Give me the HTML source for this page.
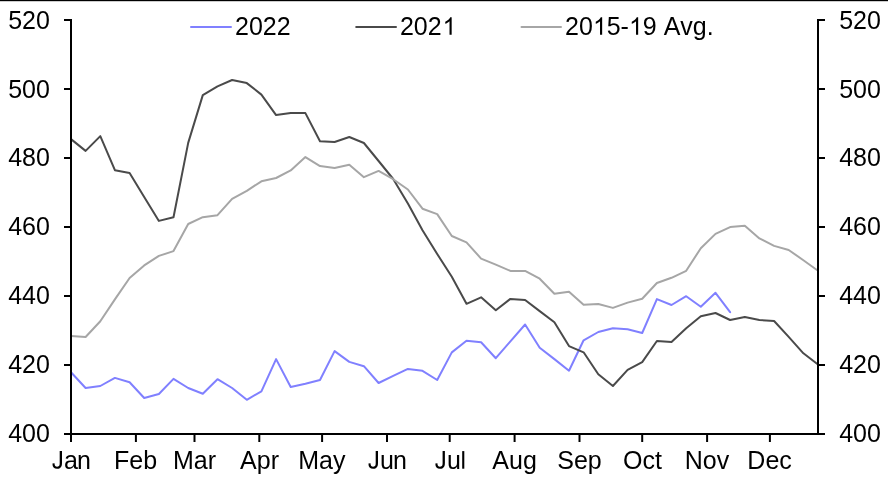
<!DOCTYPE html>
<html><head><meta charset="utf-8"><title>Chart</title>
<style>
html,body{margin:0;padding:0;background:#fff;}
body{width:888px;height:478px;overflow:hidden;}
svg{display:block;will-change:transform;}
text{font-kerning:none;font-family:"Liberation Sans",sans-serif;font-size:25px;fill:#000;}
</style></head><body>
<svg width="888" height="478" viewBox="0 0 888 478">
<rect x="0" y="0" width="888" height="478" fill="#fff"/>
<rect x="0" y="0" width="888" height="1.2" fill="#000"/>
<polyline fill="none" stroke="#8080ff" stroke-width="2" stroke-linejoin="round" stroke-linecap="round" points="71.0,372.2 85.6,388.0 100.3,386.0 114.9,377.9 129.6,382.2 144.2,398.0 158.9,394.0 173.5,378.9 188.2,388.0 202.8,393.8 217.5,379.2 232.1,388.0 246.8,399.8 261.4,391.3 276.1,359.1 290.7,387.0 305.4,383.8 320.0,380.0 334.6,351.1 349.3,361.9 363.9,366.2 378.6,383.0 393.2,375.9 407.9,368.9 422.5,370.8 437.2,380.0 451.8,352.4 466.5,340.8 481.1,342.2 495.8,358.2 510.4,341.3 525.1,324.5 539.7,347.8 554.4,359.1 569.0,370.7 583.6,340.3 598.3,332.0 612.9,328.2 627.6,329.2 642.2,333.0 656.9,299.1 671.5,305.0 686.2,296.2 700.8,306.8 715.5,292.8 730.1,312.1"/>
<polyline fill="none" stroke="#4a4a4a" stroke-width="2" stroke-linejoin="round" stroke-linecap="round" points="71.0,139.1 85.6,150.9 100.3,136.1 114.9,170.2 129.6,173.0 144.2,197.0 158.9,220.9 173.5,217.2 188.2,142.9 202.8,95.1 217.5,86.3 232.1,80.0 246.8,83.1 261.4,94.6 276.1,115.1 290.7,113.1 305.4,113.1 320.0,141.2 334.6,142.0 349.3,137.0 363.9,143.0 378.6,161.0 393.2,179.0 407.9,203.5 422.5,230.2 437.2,254.0 451.8,276.7 466.5,303.8 481.1,297.3 495.8,310.3 510.4,298.9 525.1,300.0 539.7,311.1 554.4,322.2 569.0,346.1 583.6,352.3 598.3,374.2 612.9,386.0 627.6,369.9 642.2,362.1 656.9,341.0 671.5,342.0 686.2,328.2 700.8,316.2 715.5,313.0 730.1,320.0 744.8,317.0 759.4,320.0 774.1,321.0 788.7,336.9 803.4,353.3 818.0,364.5"/>
<polyline fill="none" stroke="#a6a6a6" stroke-width="2" stroke-linejoin="round" stroke-linecap="round" points="71.0,336.0 85.6,337.0 100.3,321.2 114.9,299.4 129.6,278.0 144.2,265.4 158.9,255.9 173.5,251.1 188.2,224.0 202.8,217.2 217.5,215.2 232.1,198.8 246.8,190.8 261.4,181.3 276.1,178.0 290.7,170.4 305.4,157.1 320.0,166.1 334.6,168.1 349.3,164.8 363.9,177.2 378.6,170.9 393.2,179.2 407.9,189.5 422.5,208.7 437.2,214.1 451.8,236.0 466.5,242.3 481.1,258.6 495.8,264.6 510.4,270.9 525.1,270.9 539.7,278.7 554.4,293.8 569.0,291.8 583.6,304.8 598.3,304.0 612.9,307.9 627.6,302.6 642.2,298.8 656.9,283.0 671.5,277.8 686.2,270.8 700.8,248.2 715.5,233.9 730.1,227.1 744.8,225.8 759.4,238.4 774.1,245.9 788.7,250.0 803.4,260.2 818.0,270.8"/>
<g stroke="#000" stroke-width="2" fill="none">
<line x1="71.0" y1="19.0" x2="71.0" y2="435.0"/>
<line x1="818.0" y1="19.0" x2="818.0" y2="435.0"/>
<line x1="64" y1="434.0" x2="825" y2="434.0"/>
<line x1="64" y1="20.0" x2="71.0" y2="20.0"/>
<line x1="818.0" y1="20.0" x2="825" y2="20.0"/>
<line x1="64" y1="89.0" x2="71.0" y2="89.0"/>
<line x1="818.0" y1="89.0" x2="825" y2="89.0"/>
<line x1="64" y1="158.0" x2="71.0" y2="158.0"/>
<line x1="818.0" y1="158.0" x2="825" y2="158.0"/>
<line x1="64" y1="227.0" x2="71.0" y2="227.0"/>
<line x1="818.0" y1="227.0" x2="825" y2="227.0"/>
<line x1="64" y1="296.0" x2="71.0" y2="296.0"/>
<line x1="818.0" y1="296.0" x2="825" y2="296.0"/>
<line x1="64" y1="365.0" x2="71.0" y2="365.0"/>
<line x1="818.0" y1="365.0" x2="825" y2="365.0"/>
<line x1="71.0" y1="434.0" x2="71.0" y2="442"/>
<line x1="135.9" y1="434.0" x2="135.9" y2="442"/>
<line x1="194.5" y1="434.0" x2="194.5" y2="442"/>
<line x1="259.3" y1="434.0" x2="259.3" y2="442"/>
<line x1="322.1" y1="434.0" x2="322.1" y2="442"/>
<line x1="387.0" y1="434.0" x2="387.0" y2="442"/>
<line x1="449.7" y1="434.0" x2="449.7" y2="442"/>
<line x1="514.6" y1="434.0" x2="514.6" y2="442"/>
<line x1="579.5" y1="434.0" x2="579.5" y2="442"/>
<line x1="642.2" y1="434.0" x2="642.2" y2="442"/>
<line x1="707.1" y1="434.0" x2="707.1" y2="442"/>
<line x1="769.9" y1="434.0" x2="769.9" y2="442"/>
</g>
<text x="49.9" y="29.1" text-anchor="end">520</text>
<text x="839.15" y="29.1">520</text>
<text x="49.9" y="98.0" text-anchor="end">500</text>
<text x="839.15" y="98.0">500</text>
<text x="49.9" y="165.7" text-anchor="end">480</text>
<text x="839.15" y="165.7">480</text>
<text x="49.9" y="234.7" text-anchor="end">460</text>
<text x="839.15" y="234.7">460</text>
<text x="49.9" y="303.7" text-anchor="end">440</text>
<text x="839.15" y="303.7">440</text>
<text x="49.9" y="372.7" text-anchor="end">420</text>
<text x="839.15" y="372.7">420</text>
<text x="49.9" y="441.7" text-anchor="end">400</text>
<text x="839.15" y="441.7">400</text>
<path d="M59 416L234 440Q241 272 297 210Q353 148 452 148Q525 148 578 181.5Q631 215 651 272.5Q671 330 671 456V1466H865V467Q865 283 820.5 182Q776 81 679.5 28Q583 -25 453 -25Q260 -25 157.5 86Q55 197 59 416Z" transform="translate(51.73,468.50) scale(0.01187,-0.01187)" fill="#000"/>
<text x="63.9 77.0" y="468.8">an</text>
<text x="135.6" y="468.8" text-anchor="middle">Feb</text>
<text x="194.5" y="468.8" text-anchor="middle">Mar</text>
<text x="259.5" y="468.8" text-anchor="middle">Apr</text>
<text x="321.8" y="468.8" text-anchor="middle">May</text>
<path d="M59 416L234 440Q241 272 297 210Q353 148 452 148Q525 148 578 181.5Q631 215 651 272.5Q671 330 671 456V1466H865V467Q865 283 820.5 182Q776 81 679.5 28Q583 -25 453 -25Q260 -25 157.5 86Q55 197 59 416Z" transform="translate(367.73,468.50) scale(0.01187,-0.01187)" fill="#000"/>
<text x="380.1 392.95" y="468.8">un</text>
<path d="M59 416L234 440Q241 272 297 210Q353 148 452 148Q525 148 578 181.5Q631 215 651 272.5Q671 330 671 456V1466H865V467Q865 283 820.5 182Q776 81 679.5 28Q583 -25 453 -25Q260 -25 157.5 86Q55 197 59 416Z" transform="translate(434.63,468.50) scale(0.01187,-0.01187)" fill="#000"/>
<text x="447.1" y="468.8">u</text>
<rect x="462.2" y="451.1" width="2.1" height="17.6" fill="#000"/>
<text x="514.6" y="468.8" text-anchor="middle">Aug</text>
<text x="579.5" y="468.8" text-anchor="middle">Sep</text>
<text x="642.4" y="468.8" text-anchor="middle">Oct</text>
<text x="707.0" y="468.8" text-anchor="middle">Nov</text>
<text x="769.6" y="468.8" text-anchor="middle">Dec</text>
<line x1="191" y1="27" x2="231" y2="27" stroke="#8080ff" stroke-width="2" stroke-linecap="round"/>
<text x="235.0" y="35">2022</text>
<line x1="356.2" y1="27" x2="396" y2="27" stroke="#4a4a4a" stroke-width="2" stroke-linecap="round"/>
<text x="399.95" y="35">202</text>
<path d="M763 0H583V1147Q518 1085 412.5 1023Q307 961 223 930V1104Q374 1175 487 1276Q600 1377 647 1472H763Z" transform="translate(442.60,34.80) scale(0.01187,-0.01187)" fill="#000"/>
<line x1="521.5" y1="27" x2="561" y2="27" stroke="#a6a6a6" stroke-width="2" stroke-linecap="round"/>
<text x="565.0" y="35">20</text>
<path d="M763 0H583V1147Q518 1085 412.5 1023Q307 961 223 930V1104Q374 1175 487 1276Q600 1377 647 1472H763Z" transform="translate(593.10,34.80) scale(0.01187,-0.01187)" fill="#000"/>
<text x="606.7" y="35">5-</text>
<path d="M763 0H583V1147Q518 1085 412.5 1023Q307 961 223 930V1104Q374 1175 487 1276Q600 1377 647 1472H763Z" transform="translate(629.10,34.80) scale(0.01187,-0.01187)" fill="#000"/>
<text x="642.84" y="35">9 Avg.</text>
</svg>
</body></html>
